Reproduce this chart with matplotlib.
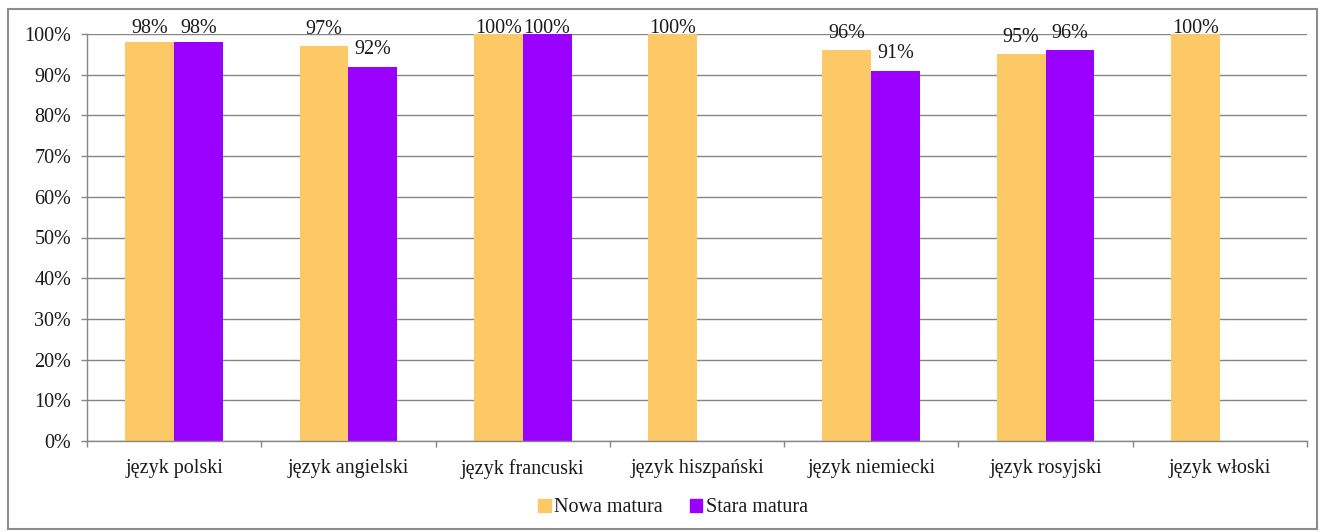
import matplotlib
matplotlib.use("Agg")
import matplotlib.pyplot as plt
import numpy as np
from matplotlib.patches import Rectangle

categories = ["język polski", "język angielski", "język francuski", "język hiszpański",
              "język niemiecki", "język rosyjski", "język włoski"]
nowa = [98, 97, 100, 100, 96, 95, 100]
stara = [98, 92, 100, None, 91, 96, None]
series_names = ["Nowa matura", "Stara matura"]
yticks = [0, 10, 20, 30, 40, 50, 60, 70, 80, 90, 100]

plt.rcParams['font.family'] = ['Liberation Serif', 'DejaVu Serif']

W, H = 1322, 532
fig = plt.figure(figsize=(W/100, H/100), dpi=100)
top_px, bot_px = 34, 441
ax = fig.add_axes([87/W, 1-bot_px/H, (1307-87)/W, (bot_px-top_px)/H])
px_per_unit = (bot_px - top_px) / 100.0

x = np.arange(len(categories))
bw = 0.28
c1, c2 = "#FCC966", "#9900FF"
FS = 14.5


def label(xpos, v):
    # Excel-like: baseline ~12.5px above bar top, clamped near top of chart area
    y = min(v + 12.5/px_per_unit, 100 + 1/px_per_unit)
    ax.text(xpos, y, f"{v}%", ha='center', va='baseline', fontsize=FS, zorder=3,
            clip_on=False, color='#1a1a1a')


for i in range(len(categories)):
    v = nowa[i]
    if v is not None:
        ax.bar(x[i]-bw/2, v, bw, color=c1, zorder=2)
        label(x[i]-bw/2, v)
    v = stara[i]
    if v is not None:
        ax.bar(x[i]+bw/2, v, bw, color=c2, zorder=2)
        label(x[i]+bw/2, v)

ax.set_xlim(-0.5, len(categories)-0.5)
ax.set_ylim(0, 100)
ax.set_yticks(yticks)
ax.set_yticklabels([f"{t}%" for t in yticks], fontsize=FS, color='#1a1a1a')
ax.yaxis.grid(True, color='#868686', linewidth=1, zorder=0)
ax.set_axisbelow(True)
ax.set_xticks(x)
ax.set_xticklabels(categories, fontsize=FS, color='#1a1a1a')
ax.tick_params(axis='x', length=0, pad=13)
ax.set_xticks(np.arange(-0.5, len(categories)), minor=True)
ax.tick_params(axis='x', which='minor', length=4.5, color='#868686', width=1)
ax.tick_params(axis='y', length=4.5, color='#868686', width=1, pad=7)
for s in ['top', 'right']:
    ax.spines[s].set_visible(False)
for s in ['left', 'bottom']:
    ax.spines[s].set_color('#868686')
    ax.spines[s].set_linewidth(1)

handles = [Rectangle((0, 0), 1, 1, color=c1), Rectangle((0, 0), 1, 1, color=c2)]
fig.legend(handles, series_names, loc='center', bbox_to_anchor=(673/W, 1-508/H),
           ncol=2, frameon=False, fontsize=FS, handlelength=0.6, handleheight=0.6,
           handletextpad=0.15, columnspacing=1.4, labelcolor='#1a1a1a')

fig.patches.append(Rectangle((8/W, 1-529/H), (1317-8)/W, (529-9)/H, transform=fig.transFigure,
                             fill=False, edgecolor='#8c8c8c', linewidth=1.5))

fig.savefig("out.png", dpi=100)
